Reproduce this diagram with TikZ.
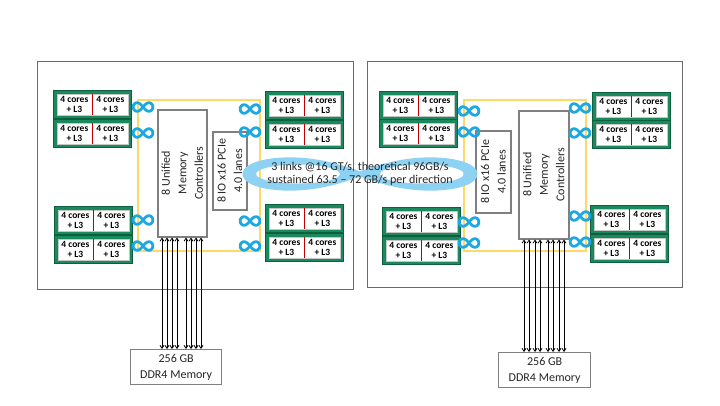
\documentclass[tikz,border=0pt]{standalone}
\usepackage{fontspec}
\setmainfont{Carlito}
\usetikzlibrary{arrows.meta}
\definecolor{ccdgreen}{HTML}{1A8A5E}
\definecolor{ccddark}{HTML}{0F5E3E}
\definecolor{ccdred}{HTML}{C00000}
\definecolor{framegray}{HTML}{6A6A6A}
\definecolor{boxgray}{HTML}{7F7F7F}
\definecolor{ringyellow}{HTML}{FFD966}
\definecolor{infblue}{HTML}{1CA8E4}
\definecolor{linkblue}{HTML}{8DD2F2}
\newcommand\ccdblk[3]{%
  \node[ccdbox] (#1) at (#2,#3) {};
  \node[ccdinner] (#1-in) at (#1.center) {};
  \node[ccdtxt] (#1-a) at ([xshift=-18pt]#1.center) {4 cores\\+ L3};
  \node[ccdtxt] (#1-b) at ([xshift=18pt]#1.center) {4 cores\\+ L3};
  \draw[divider] (#1-in.north) -- (#1-in.south);
}
\newcommand\infsym[2]{%
  \draw[infsmall, shift={(#1,#2)}] plot[domain=0:360,samples=73,smooth]
    ({9.8*cos(\x)/(1+sin(\x)*sin(\x))},{12*sin(\x)*cos(\x)/(1+sin(\x)*sin(\x))});
}
\begin{document}
\begin{tikzpicture}[x=1pt,y=-1pt,
  pkg/.style={draw=framegray, line width=1.3pt, rectangle, inner sep=0, anchor=north west},
  ringbox/.style={draw=ringyellow, line width=1.6pt, rectangle, inner sep=0, anchor=north west},
  ctrl/.style={draw=boxgray, line width=1.5pt, fill=white, rectangle, inner sep=0, anchor=north west},
  ccdbox/.style={draw=ccddark, line width=0.8pt, fill=ccdgreen, rectangle, minimum width=78pt, minimum height=28pt, inner sep=0, anchor=north west},
  ccdinner/.style={draw=gray!45, line width=0.5pt, fill=white, rectangle, minimum width=71pt, minimum height=21pt, inner sep=0},
  ccdtxt/.style={font=\fontsize{9.5}{10.5}\selectfont\bfseries, align=center, inner sep=0, text=black},
  divider/.style={draw=ccdred, line width=1.3pt},
  infsmall/.style={draw=infblue, line width=2.8pt},
  bigtxt/.style={font=\fontsize{12}{13.5}\selectfont, align=center, inner sep=0, text=black!85},
  vtxt/.style={font=\fontsize{12}{16.5}\selectfont, align=center, inner sep=0, rotate=90, text=black!85},
  ddrbox/.style={draw=boxgray, line width=1.3pt, rectangle, inner sep=0, anchor=north west, font=\fontsize{12}{16}\selectfont, align=center, text=black!85},
  memarrow/.style={{Straight Barb[length=3pt,width=4pt]}-{Straight Barb[length=3pt,width=4pt]}, line width=0.8pt}
]
\useasboundingbox (0,0) rectangle (720,405);
\fill[white] (0,0) rectangle (720,405);

% packages
\node[pkg, minimum width=316pt, minimum height=228pt] (pkgL) at (37,61) {};
\node[pkg, minimum width=315pt, minimum height=226pt] (pkgR) at (367,61) {};

% infinity fabric rings
\node[ringbox, minimum width=122pt, minimum height=151pt] (ringL) at (137,99) {};
\node[ringbox, minimum width=122pt, minimum height=151pt] (ringR) at (463,99) {};

% controllers
\node[ctrl, minimum width=49pt, minimum height=127pt] (mcL) at (157,109) {};
\node[vtxt] (mcLt) at (mcL.center) {8 Unified\\Memory\\Controllers};
\node[ctrl, minimum width=34pt, minimum height=78pt] (ioL) at (212,131) {};
\node[vtxt] (ioLt) at (ioL.center) {8 IO x16 PCIe\\4.0 lanes};

\node[ctrl, minimum width=50pt, minimum height=128pt] (mcR) at (518,110) {};
\node[vtxt] (mcRt) at (mcR.center) {8 Unified\\Memory\\Controllers};
\node[ctrl, minimum width=35pt, minimum height=82pt] (ioR) at (475,130) {};
\node[vtxt] (ioRt) at (ioR.center) {8 IO x16 PCIe\\4.0 lanes};

% CCDs, left package
\ccdblk{L1}{53}{90}
\ccdblk{L2}{53}{119}
\ccdblk{L3}{54}{206}
\ccdblk{L4}{54}{235}
\ccdblk{L5}{265}{91}
\ccdblk{L6}{265}{120}
\ccdblk{L7}{265}{204}
\ccdblk{L8}{265}{233}
% CCDs, right package
\ccdblk{R1}{379}{91}
\ccdblk{R2}{379}{119}
\ccdblk{R3}{382}{207}
\ccdblk{R4}{382}{236}
\ccdblk{R5}{592}{92}
\ccdblk{R6}{592}{120}
\ccdblk{R7}{590}{205}
\ccdblk{R8}{590}{234}

% small infinity links
\infsym{143}{107}\infsym{143}{133}\infsym{143}{220}\infsym{143}{246}
\infsym{250}{109}\infsym{250}{132}\infsym{250}{221}\infsym{250}{246}
\infsym{469}{111}\infsym{469}{132}\infsym{469}{222}\infsym{469}{243}
\infsym{580}{108}\infsym{580}{133}\infsym{580}{216}\infsym{580}{242}

% socket-to-socket link (large infinity band)
\fill[linkblue, even odd rule]
  plot[domain=0:360,samples=145,smooth]
    ({360+115*cos(\x)/(1+sin(\x)*sin(\x))},{174+40*sin(\x)*cos(\x)/(1+sin(\x)*sin(\x))})
  (298,174) ellipse [x radius=42, y radius=9.5]
  (422,174) ellipse [x radius=42, y radius=9.5];
\draw[linkblue, line width=5pt, line join=round]
  plot[domain=0:360,samples=145,smooth]
    ({360+115*cos(\x)/(1+sin(\x)*sin(\x))},{174+40*sin(\x)*cos(\x)/(1+sin(\x)*sin(\x))});
\node[bigtxt] (link) at (360,174) {3 links @16 GT/s, theoretical 96GB/s\\sustained 63.5 -- 72 GB/s per direction};

% memory
\node[ddrbox, minimum width=91pt, minimum height=35pt] (ddrL) at (130,349) {256 GB\\DDR4 Memory};
\node[ddrbox, minimum width=92pt, minimum height=35pt] (ddrR) at (498,352) {256 GB\\DDR4 Memory};

\foreach \i/\xx in {1/162,2/167,3/172,4/177,5/186,6/191,7/196,8/201}{
  \coordinate (al\i) at (\xx,0);
  \draw[memarrow] (mcL.south -| al\i) -- (ddrL.north -| al\i);
}
\foreach \i/\xx in {1/524,2/529,3/535,4/540,5/548,6/553,7/559,8/564}{
  \coordinate (ar\i) at (\xx,0);
  \draw[memarrow] (mcR.south -| ar\i) -- (ddrR.north -| ar\i);
}
\end{tikzpicture}
\end{document}
